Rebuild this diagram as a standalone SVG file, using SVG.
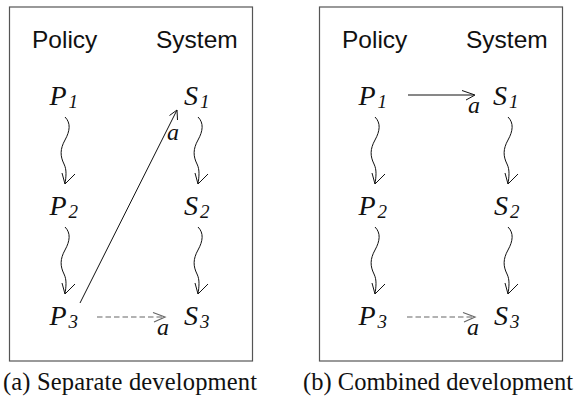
<svg xmlns="http://www.w3.org/2000/svg" xmlns:xlink="http://www.w3.org/1999/xlink" width="578" height="398" viewBox="0 0 578 398">
  <style>
    .frame { fill: #ffffff; stroke: #555555; stroke-width: 1.2; }
    .head { font-size: 24.5px; fill: #111111; }
    .var { font-style: italic; font-size: 28px; fill: #111111; }
    .sub { font-size: 19px; }
    .lbl { font-style: italic; font-size: 24px; fill: #111111; }
    .cap { font-size: 24.5px; fill: #111111; }
    .line { fill: none; stroke: #111111; stroke-width: 1; }
    .dash { fill: none; stroke: #666666; stroke-width: 1.2; stroke-dasharray: 5.5 3; }
    .dhead { fill: none; stroke: #666666; stroke-width: 1.2; }
  </style>
  <defs>
    <!-- squiggly downward step arrow, origin at its top end -->
    <g id="wave">
      <path class="line" d="M0,0 C6,6 5,14 0,23 C-5,32 -5,39 -1,47 C2,53 1,60 0,67"/>
      <path class="line" d="M-3,56 L0,67 L10,57"/>
    </g>
  </defs>

  <!-- panel (a) -->
  <rect class="frame" x="9.5" y="7" width="243" height="354"/>
  <g font-family="Liberation Sans, Arial, sans-serif">
    <text class="head" x="32" y="48">Policy</text>
    <text class="head" x="156" y="48">System</text>
  </g>

  <g font-family="Liberation Serif, DejaVu Serif, serif">
    <g id="a-P1"><text class="var" x="49.5" y="105">P<tspan class="sub" dx="2" dy="3">1</tspan></text></g>
    <g id="a-P2"><text class="var" x="49.5" y="215">P<tspan class="sub" dx="2" dy="3">2</tspan></text></g>
    <g id="a-P3"><text class="var" x="49.5" y="325">P<tspan class="sub" dx="2" dy="3">3</tspan></text></g>
    <g id="a-S1"><text class="var" x="184" y="105">S<tspan class="sub" dx="2" dy="3">1</tspan></text></g>
    <g id="a-S2"><text class="var" x="184" y="215">S<tspan class="sub" dx="2" dy="3">2</tspan></text></g>
    <g id="a-S3"><text class="var" x="184" y="325">S<tspan class="sub" dx="2" dy="3">3</tspan></text></g>

    <g id="a-connectors">
      <use xlink:href="#wave" transform="translate(65,117)"/>
      <use xlink:href="#wave" transform="translate(65,227)"/>
      <use xlink:href="#wave" transform="translate(198,117)"/>
      <use xlink:href="#wave" transform="translate(198,227)"/>
      <!-- P3 to S1 -->
      <path class="line" d="M80,303 L177,110"/>
      <path class="line" d="M169.5,115.5 L177,110 L177.5,120"/>
      <text class="lbl" x="167" y="140">a</text>
      <!-- P3 to S3 -->
      <path class="dash" d="M97,317 L164,317"/>
      <path class="dhead" d="M153,312.5 L165,317 L154,322"/>
      <text class="lbl" x="157" y="335">a</text>
    </g>
    <text class="cap" x="3" y="390" textLength="254" lengthAdjust="spacing">(a) Separate development</text>
  </g>

  <!-- panel (b) -->
  <rect class="frame" x="319.5" y="7" width="243" height="354"/>
  <g font-family="Liberation Sans, Arial, sans-serif">
    <text class="head" x="342" y="48">Policy</text>
    <text class="head" x="466" y="48">System</text>
  </g>

  <g font-family="Liberation Serif, DejaVu Serif, serif">
    <g id="b-P1"><text class="var" x="358.5" y="105">P<tspan class="sub" dx="2" dy="3">1</tspan></text></g>
    <g id="b-P2"><text class="var" x="358.5" y="215">P<tspan class="sub" dx="2" dy="3">2</tspan></text></g>
    <g id="b-P3"><text class="var" x="358.5" y="325">P<tspan class="sub" dx="2" dy="3">3</tspan></text></g>
    <g id="b-S1"><text class="var" x="493" y="105">S<tspan class="sub" dx="2" dy="3">1</tspan></text></g>
    <g id="b-S2"><text class="var" x="494" y="215">S<tspan class="sub" dx="2" dy="3">2</tspan></text></g>
    <g id="b-S3"><text class="var" x="494" y="325">S<tspan class="sub" dx="2" dy="3">3</tspan></text></g>

    <g id="b-connectors">
      <use xlink:href="#wave" transform="translate(375,117)"/>
      <use xlink:href="#wave" transform="translate(375,227)"/>
      <use xlink:href="#wave" transform="translate(508,117)"/>
      <use xlink:href="#wave" transform="translate(508,227)"/>
      <!-- P1 to S1 -->
      <path class="line" d="M408,95 L474,95"/>
      <path class="line" d="M462,90.5 L475,95 L466,100"/>
      <text class="lbl" x="468" y="113">a</text>
      <!-- P3 to S3 -->
      <path class="dash" d="M407,317 L474,317"/>
      <path class="dhead" d="M463,312.5 L475,317 L464,322"/>
      <text class="lbl" x="467" y="335">a</text>
    </g>
    <text class="cap" x="303" y="390" textLength="270" lengthAdjust="spacing">(b) Combined development</text>
  </g>
</svg>
